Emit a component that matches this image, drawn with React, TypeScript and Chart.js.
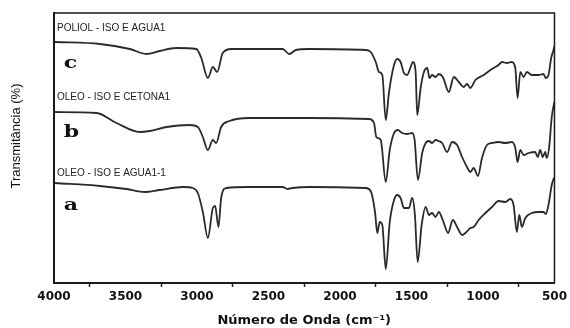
import { useEffect, useRef } from "react";
import { Chart, registerables } from "chart.js";

Chart.register(...registerables);

// ---- data (wavenumber in cm^-1, transmittance in arbitrary stacked units) ----
const xTickValues = [4000, 3500, 3000, 2500, 2000, 1500, 1000, 500];
const traceNames = ["POLIOL - ISO E AGUA1", "OLEO - ISO E CETONA1", "OLEO - ISO E AGUA1-1"];
const traceLetters = ["c", "b", "a"];
const nameLevels = [255, 186, 110];
const letterLevels = [215, 146, 73];
const nameWave = 3979;
const letterWave = 3932;

const cWave = [3993, 3679, 3470, 3354, 3261, 3145, 3005, 2970, 2924, 2889, 2859, 2820, 2761, 2401, 2355, 2308, 2215, 1820, 1785, 1750, 1727, 1704, 1680, 1657, 1622, 1600, 1576, 1553, 1530, 1506, 1490, 1471, 1460, 1436, 1413, 1390, 1374, 1356, 1332, 1309, 1281, 1239, 1204, 1169, 1135, 1112, 1088, 1053, 995, 948, 891, 867, 833, 798, 774, 758, 739, 716, 693, 658, 612, 577, 561, 542, 523, 507, 500];
const cTrans = [241, 239, 234, 229, 232, 235, 234, 225, 205, 216, 211, 230, 234, 234, 229, 233, 234, 233, 231, 221, 211, 208, 163, 191, 218, 224, 221, 210, 208, 216, 221, 211, 168, 195, 211, 215, 205, 208, 206, 209, 206, 191, 206, 201, 196, 199, 195, 203, 208, 213, 218, 221, 220, 221, 215, 185, 211, 206, 211, 208, 208, 209, 205, 208, 225, 233, 237];

const bWave = [3993, 3702, 3563, 3400, 3331, 3214, 3052, 2994, 2959, 2924, 2889, 2866, 2831, 2773, 2633, 2401, 2215, 1797, 1762, 1746, 1715, 1680, 1652, 1622, 1595, 1565, 1530, 1495, 1478, 1455, 1425, 1401, 1378, 1356, 1332, 1309, 1286, 1251, 1216, 1181, 1146, 1112, 1088, 1065, 1035, 1007, 972, 937, 891, 844, 798, 774, 758, 739, 716, 681, 635, 617, 600, 582, 565, 554, 537, 519, 502, 500];
const bTrans = [171, 170, 160, 151, 152, 156, 158, 156, 146, 133, 143, 140, 156, 162, 165, 165, 165, 164, 160, 146, 143, 101, 133, 150, 153, 150, 149, 150, 143, 103, 130, 140, 142, 140, 143, 142, 140, 131, 141, 138, 126, 116, 111, 115, 107, 125, 138, 140, 141, 140, 141, 135, 121, 133, 128, 130, 131, 126, 133, 126, 131, 125, 136, 166, 180, 181];

const aWave = [3993, 3679, 3493, 3366, 3261, 3099, 3029, 2994, 2959, 2924, 2889, 2873, 2850, 2831, 2796, 2633, 2401, 2366, 2332, 2215, 1820, 1785, 1755, 1739, 1722, 1704, 1680, 1652, 1622, 1600, 1576, 1553, 1518, 1495, 1476, 1457, 1429, 1401, 1378, 1356, 1332, 1309, 1281, 1244, 1211, 1181, 1146, 1123, 1088, 1065, 1030, 983, 937, 891, 844, 809, 786, 763, 746, 728, 704, 658, 612, 577, 561, 542, 519, 502, 500];
const aTrans = [100, 97, 94, 91, 93, 96, 95, 90, 71, 45, 75, 77, 56, 85, 95, 96, 96, 94, 95, 96, 95, 92, 71, 50, 61, 58, 14, 61, 83, 88, 85, 75, 75, 85, 68, 21, 58, 76, 68, 70, 66, 71, 63, 50, 63, 56, 48, 50, 55, 56, 63, 70, 76, 82, 81, 84, 78, 51, 68, 56, 65, 70, 71, 71, 69, 78, 98, 105, 103];

const toPoints = (w: number[], t: number[]) => w.map((x, i) => ({ x, y: t[i] }));

const overlayPlugin = {
  id: "overlay",
  afterDraw(chart: any) {
    const { ctx, chartArea: ca, scales } = chart;
    ctx.save();
    // top and right frame
    ctx.strokeStyle = "#1a1a1a";
    ctx.lineWidth = 1.5;
    ctx.beginPath();
    ctx.moveTo(ca.left, ca.top);
    ctx.lineTo(ca.right, ca.top);
    ctx.lineTo(ca.right, ca.bottom);
    ctx.stroke();

    // sample names
    ctx.fillStyle = "#222";
    ctx.font = '10px "Liberation Sans", Arial, sans-serif';
    ctx.textAlign = "left";
    ctx.textBaseline = "middle";
    traceNames.forEach((t, i) => {
      ctx.fillText(t, scales.x.getPixelForValue(nameWave), scales.y.getPixelForValue(nameLevels[i]));
    });

    // letters
    ctx.fillStyle = "#111";
    ctx.font = 'bold 17px "DejaVu Serif", serif';
    ctx.textBaseline = "alphabetic";
    traceLetters.forEach((t, i) => {
      ctx.save();
      ctx.translate(scales.x.getPixelForValue(letterWave), scales.y.getPixelForValue(letterLevels[i]));
      ctx.scale(1.3, 1);
      ctx.fillText(t, 0, 0);
      ctx.restore();
    });

    // y title
    ctx.save();
    ctx.translate(16, (ca.top + ca.bottom) / 2 - 12);
    ctx.rotate(-Math.PI / 2);
    ctx.textAlign = "center";
    ctx.textBaseline = "middle";
    ctx.fillStyle = "#111";
    ctx.font = '13px "Liberation Sans", Arial, sans-serif';
    ctx.fillText("Transmitância (%)", 0, 0);
    ctx.restore();

    ctx.restore();
  },
};

export default function App() {
  const ref = useRef<HTMLCanvasElement | null>(null);

  useEffect(() => {
    document.body.style.margin = "0";
    const canvas = ref.current;
    if (!canvas) return;
    const lineStyle = {
      borderColor: "#2a2a2a",
      borderWidth: 1.8,
      pointRadius: 0,
      fill: false,
      cubicInterpolationMode: "monotone" as const,
    };
    const chart = new Chart(canvas, {
      type: "line",
      data: {
        datasets: [
          { label: traceNames[0], data: toPoints(cWave, cTrans), ...lineStyle },
          { label: traceNames[1], data: toPoints(bWave, bTrans), ...lineStyle },
          { label: traceNames[2], data: toPoints(aWave, aTrans), ...lineStyle },
        ],
      },
      options: {
        animation: false,
        responsive: false,
        layout: { padding: { top: 13, right: 14, left: 0, bottom: 0 } },
        plugins: { legend: { display: false }, tooltip: { enabled: false } },
        scales: {
          x: {
            type: "linear",
            reverse: true,
            min: 500,
            max: 4000,
            afterFit: (s: any) => {
              s.height = 45;
            },
            afterBuildTicks: (s: any) => {
              const ticks = [];
              for (let v = 4000; v >= 500; v -= 250) ticks.push({ value: v });
              s.ticks = ticks;
            },
            ticks: {
              autoSkip: false,
              maxRotation: 0,
              padding: 3,
              color: "#111",
              font: { family: '"DejaVu Sans", sans-serif', size: 12, weight: "bold" },
              callback: (v: any) => (xTickValues.includes(Number(v)) ? String(v) : ""),
            },
            grid: {
              display: true,
              drawOnChartArea: false,
              tickLength: 4,
              tickWidth: 1.5,
              tickColor: (c: any) => (c.tick && xTickValues.includes(c.tick.value) ? "rgba(0,0,0,0)" : "#222"),
            },
            border: { display: true, color: "#1a1a1a", width: 2 },
            title: {
              display: true,
              text: "Número de Onda (cm⁻¹)",
              color: "#111",
              padding: { top: 0, bottom: 0 },
              font: { family: '"DejaVu Sans", sans-serif', size: 13, weight: "bold" },
            },
          },
          y: {
            type: "linear",
            min: 0,
            max: 270,
            afterFit: (s: any) => {
              s.width = 54;
            },
            ticks: { display: false },
            grid: { display: false },
            border: { display: true, color: "#1a1a1a", width: 2 },
          },
        },
      },
      plugins: [overlayPlugin],
    });
    return () => chart.destroy();
  }, []);

  return (
    <div style={{ position: "absolute", left: 0, top: 0, width: 570, height: 328, background: "#fff" }}>
      <canvas ref={ref} width={570} height={328} />
    </div>
  );
}
